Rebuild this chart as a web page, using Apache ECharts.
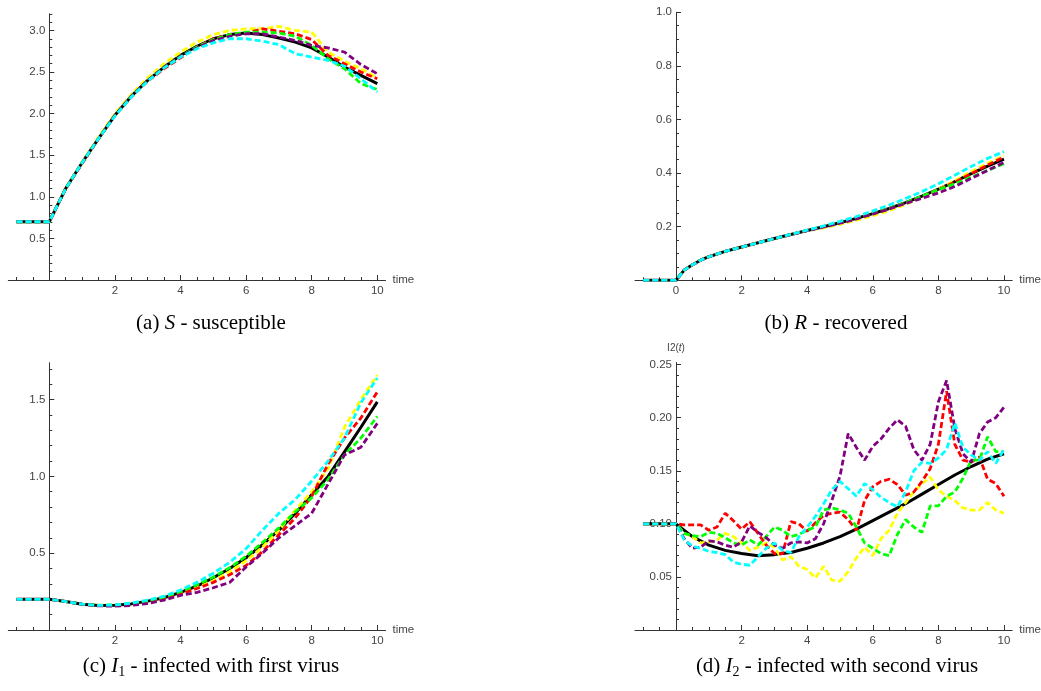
<!DOCTYPE html>
<html><head><meta charset="utf-8">
<script src="https://cdn.jsdelivr.net/npm/echarts@6/dist/echarts.min.js"></script>
<style>html,body{margin:0;padding:0;background:#fff}#c{width:1041px;height:691px}</style>
</head><body><div id="c"></div>
<script>
// ---------- time grids ----------
const T_HALF = [-1,0,0.5,1,1.5,2,2.5,3,3.5,4,4.5,5,5.5,6,6.5,7,7.5,8,8.5,9,9.5,10];
const T_B = [-1,0,0.25,0.5,0.75,1,1.5,2,2.5,3,3.5,4,4.5,5,5.5,6,6.5,7,7.5,8,8.5,9,9.5,10];
const T_QUARTER = [-1,0,0.25,0.5,0.75,1,1.25,1.5,1.75,2,2.25,2.5,2.75,3,3.25,3.5,3.75,4,4.25,4.5,4.75,5,5.25,5.5,5.75,6,6.25,6.5,6.75,7,7.25,7.5,7.75,8,8.25,8.5,8.75,9,9.25,9.5,9.75,10];

// ---------- (a) S - susceptible (T_HALF) ----------
const S_black  = [0.70,0.70,1.10,1.41,1.70,1.98,2.21,2.40,2.56,2.70,2.81,2.90,2.95,2.97,2.95,2.91,2.86,2.79,2.68,2.56,2.46,2.36];
const S_yellow = [0.70,0.70,1.11,1.42,1.72,2.00,2.23,2.43,2.60,2.74,2.86,2.95,3.00,3.02,3.02,3.05,3.00,2.98,2.74,2.63,2.54,2.43];
const S_red    = [0.70,0.70,1.10,1.40,1.70,1.98,2.20,2.39,2.54,2.67,2.80,2.90,2.95,2.97,3.02,2.99,2.96,2.89,2.70,2.60,2.50,2.42];
const S_green  = [0.70,0.70,1.10,1.41,1.70,1.98,2.21,2.40,2.56,2.69,2.80,2.89,2.95,2.98,2.98,2.97,2.93,2.82,2.66,2.54,2.36,2.29];
const S_purple = [0.70,0.70,1.10,1.41,1.70,1.98,2.21,2.40,2.56,2.69,2.79,2.88,2.93,2.96,2.96,2.92,2.88,2.82,2.79,2.74,2.59,2.48];
const S_cyan   = [0.70,0.70,1.10,1.41,1.70,1.97,2.20,2.39,2.55,2.68,2.78,2.85,2.90,2.90,2.87,2.83,2.72,2.68,2.64,2.57,2.42,2.26];

// ---------- (b) R - recovered (T_B) ----------
const R_black  = [0,0,0.038,0.058,0.075,0.088,0.108,0.124,0.140,0.156,0.171,0.186,0.200,0.215,0.231,0.249,0.268,0.290,0.314,0.340,0.368,0.398,0.426,0.452];
const R_yellow = [0,0,0.038,0.058,0.075,0.088,0.108,0.124,0.140,0.156,0.170,0.185,0.196,0.209,0.224,0.241,0.260,0.283,0.310,0.340,0.372,0.405,0.437,0.465];
const R_red    = [0,0,0.038,0.058,0.075,0.088,0.108,0.124,0.140,0.156,0.171,0.186,0.200,0.215,0.231,0.249,0.268,0.290,0.313,0.338,0.366,0.398,0.430,0.460];
const R_green  = [0,0,0.038,0.058,0.075,0.088,0.108,0.124,0.140,0.156,0.171,0.186,0.200,0.215,0.231,0.249,0.268,0.290,0.314,0.338,0.360,0.385,0.410,0.435];
const R_purple = [0,0,0.038,0.058,0.075,0.088,0.108,0.124,0.140,0.156,0.170,0.185,0.199,0.213,0.229,0.247,0.266,0.287,0.306,0.326,0.350,0.380,0.410,0.440];
const R_cyan   = [0,0,0.038,0.058,0.075,0.088,0.108,0.124,0.140,0.156,0.171,0.187,0.203,0.220,0.238,0.259,0.281,0.305,0.331,0.360,0.392,0.425,0.455,0.480];

// ---------- (c) I1 - infected with first virus (T_HALF) ----------
const I1_black  = [0.20,0.20,0.185,0.168,0.160,0.161,0.170,0.188,0.210,0.245,0.285,0.340,0.400,0.470,0.555,0.650,0.760,0.880,1.000,1.160,1.320,1.485];
const I1_yellow = [0.20,0.20,0.185,0.168,0.160,0.161,0.168,0.185,0.205,0.235,0.275,0.320,0.380,0.450,0.540,0.650,0.780,0.900,1.050,1.320,1.500,1.660];
const I1_red    = [0.20,0.20,0.185,0.168,0.160,0.160,0.167,0.183,0.203,0.235,0.270,0.310,0.360,0.420,0.510,0.620,0.730,0.870,1.080,1.250,1.380,1.550];
const I1_green  = [0.20,0.20,0.185,0.168,0.161,0.163,0.172,0.190,0.215,0.250,0.295,0.345,0.405,0.480,0.570,0.665,0.770,0.860,0.980,1.140,1.250,1.390];
const I1_purple = [0.20,0.20,0.185,0.168,0.157,0.155,0.160,0.172,0.195,0.225,0.245,0.275,0.310,0.410,0.500,0.600,0.680,0.760,0.950,1.140,1.190,1.345];
const I1_cyan   = [0.20,0.20,0.185,0.168,0.160,0.163,0.175,0.195,0.220,0.260,0.310,0.370,0.440,0.530,0.650,0.760,0.850,0.970,1.100,1.250,1.480,1.640];

// ---------- (d) I2 - infected with second virus (T_QUARTER; black on T_HALF) ----------
const I2_black  = [0.100,0.100,0.088,0.080,0.075,0.072,0.070,0.071,0.073,0.077,0.082,0.088,0.095,0.103,0.111,0.119,0.128,0.137,0.146,0.154,0.161,0.166];
const I2_yellow = [0.100,0.100,0.091,0.088,0.082,0.083,0.085,0.091,0.088,0.082,0.075,0.078,0.082,0.078,0.066,0.069,0.060,0.057,0.049,0.060,0.047,0.046,0.055,0.068,0.078,0.070,0.086,0.094,0.110,0.120,0.130,0.138,0.144,0.132,0.126,0.122,0.115,0.113,0.113,0.120,0.113,0.110];
const I2_red    = [0.100,0.100,0.099,0.099,0.099,0.094,0.097,0.110,0.103,0.095,0.102,0.091,0.080,0.072,0.072,0.102,0.100,0.093,0.101,0.108,0.110,0.111,0.104,0.094,0.122,0.135,0.140,0.142,0.137,0.127,0.130,0.140,0.152,0.175,0.225,0.175,0.160,0.158,0.163,0.142,0.138,0.126];
const I2_green  = [0.100,0.100,0.091,0.089,0.088,0.092,0.091,0.087,0.082,0.080,0.085,0.080,0.088,0.097,0.094,0.088,0.090,0.094,0.097,0.113,0.115,0.113,0.110,0.097,0.082,0.077,0.072,0.070,0.090,0.104,0.097,0.092,0.117,0.117,0.126,0.130,0.143,0.160,0.160,0.182,0.168,0.168];
const I2_purple = [0.100,0.100,0.086,0.077,0.078,0.084,0.083,0.080,0.078,0.083,0.098,0.092,0.087,0.080,0.077,0.082,0.083,0.082,0.086,0.100,0.122,0.145,0.185,0.172,0.160,0.173,0.180,0.190,0.198,0.192,0.170,0.160,0.175,0.215,0.235,0.190,0.166,0.158,0.185,0.196,0.200,0.210];
const I2_cyan   = [0.100,0.100,0.085,0.079,0.077,0.074,0.073,0.071,0.064,0.062,0.061,0.069,0.077,0.082,0.075,0.073,0.088,0.097,0.107,0.119,0.132,0.140,0.133,0.126,0.138,0.132,0.125,0.120,0.116,0.130,0.150,0.158,0.157,0.162,0.170,0.195,0.172,0.165,0.160,0.168,0.157,0.170];

// ---------- tick labels ----------
const X_LABELS   = [2,4,6,8,10];
const X_LABELS_B = [0,2,4,6,8,10];
const Y_LABELS_A = [0.5,1.0,1.5,2.0,2.5,3.0];
const Y_LABELS_B = [0.2,0.4,0.6,0.8,1.0];
const Y_LABELS_C = [0.5,1.0,1.5];
const Y_LABELS_D = [0.05,0.10,0.15,0.20,0.25];

const COLORS = {black:'#000000', yellow:'#FFFF00', red:'#FF0000', green:'#00FF00', purple:'#800080', cyan:'#00FFFF'};
const SANS = '"Liberation Sans", Arial, sans-serif';
const SERIF = '"Liberation Serif", "DejaVu Serif", serif';
const AXC = '#333';
const LBC = '#444';

function steps(a, b, s) { const r = []; for (let i = 0; ; i++) { const v = +(a + i * s).toFixed(4); if (v > b + 1e-9) break; r.push(v); } return r; }

const XMIN = -1.25, XMAX = 10.25;
const grids = [
  {left: 8.3, top: 13.8, width: 377.2, height: 266.2},
  {left: 635, top: 12.3, width: 377.2, height: 268},
  {left: 8.3, top: 362.7, width: 377.2, height: 267.3},
  {left: 635, top: 362.5, width: 377.2, height: 267.5}
];
const panels = [
  {ymax: 3.2,   xl: X_LABELS,   yl: Y_LABELS_A, ystep: 0.1,  dig: 1, yname: ''},
  {ymax: 1.0,   xl: X_LABELS_B, yl: Y_LABELS_B, ystep: 0.05, dig: 1, yname: ''},
  {ymax: 1.74,  xl: X_LABELS,   yl: Y_LABELS_C, ystep: 0.1,  dig: 1, yname: ''},
  {ymax: 0.252, xl: X_LABELS,   yl: Y_LABELS_D, ystep: 0.01, dig: 2, yname: 'I2({t|t})'}
];

const xAxes = [], yAxes = [];
panels.forEach((p, g) => {
  const lab = {fontFamily: SANS, fontSize: 11.5, color: LBC};
  // distance from grid left edge to x = 0 (where the y axis crosses)
  const zeroOffset = grids[g].width * (0 - XMIN) / (XMAX - XMIN);
  xAxes.push({
    gridIndex: g, type: 'value', min: XMIN, max: XMAX, position: 'bottom',
    axisLine: {show: true, onZero: false, lineStyle: {color: AXC, width: 1}},
    axisTick: {show: true, inside: true, length: 5, customValues: p.xl, lineStyle: {color: AXC}},
    axisLabel: Object.assign({customValues: p.xl, margin: 5, formatter: v => String(v)}, lab),
    splitLine: {show: false},
    name: 'time', nameLocation: 'end', nameGap: 7,
    nameTextStyle: {fontFamily: SANS, fontSize: 11.5, color: LBC, verticalAlign: 'middle'}
  });
  xAxes.push({
    gridIndex: g, type: 'value', min: XMIN, max: XMAX, position: 'bottom',
    axisLine: {show: false, onZero: false},
    axisTick: {show: true, inside: true, length: 3, customValues: steps(-1, 10, 0.5), lineStyle: {color: AXC}},
    axisLabel: {show: false}, splitLine: {show: false}
  });
  yAxes.push({
    gridIndex: g, type: 'value', min: 0, max: p.ymax, position: 'left',
    axisLine: {show: true, onZero: true, lineStyle: {color: AXC, width: 1}},
    axisTick: {show: true, inside: true, length: 5, customValues: p.yl, lineStyle: {color: AXC}},
    axisLabel: Object.assign({customValues: p.yl, margin: -(zeroOffset - 4), formatter: v => v.toFixed(p.dig)}, lab),
    splitLine: {show: false},
    name: p.yname, nameLocation: 'end', nameGap: 9,
    nameTextStyle: {fontFamily: SANS, fontSize: 10, color: LBC, align: 'center',
      rich: {t: {fontFamily: SANS, fontSize: 10, color: LBC, fontStyle: 'italic'}}}
  });
  yAxes.push({
    gridIndex: g, type: 'value', min: 0, max: p.ymax, position: 'left',
    axisLine: {show: false, onZero: true},
    axisTick: {show: true, inside: true, length: 3, customValues: steps(p.ystep, p.ymax, p.ystep), lineStyle: {color: AXC}},
    axisLabel: {show: false}, splitLine: {show: false}
  });
});

function line(g, ts, vs, color, dashed) {
  return {
    type: 'line', xAxisIndex: 2 * g, yAxisIndex: 2 * g, showSymbol: false, symbol: 'none',
    silent: true, animation: false,
    data: ts.map((t, i) => [t, vs[i]]),
    lineStyle: {color: color, width: dashed ? 2.8 : 3, type: dashed ? [6, 3] : 'solid', cap: 'butt'}
  };
}
function panelSeries(g, tb, black, tc, y, r, gr, p, c) {
  return [
    line(g, tb, black, COLORS.black, false),
    line(g, tc, y, COLORS.yellow, true),
    line(g, tc, r, COLORS.red, true),
    line(g, tc, gr, COLORS.green, true),
    line(g, tc, p, COLORS.purple, true),
    line(g, tc, c, COLORS.cyan, true)
  ];
}
const series = [].concat(
  panelSeries(0, T_HALF, S_black, T_HALF, S_yellow, S_red, S_green, S_purple, S_cyan),
  panelSeries(1, T_B, R_black, T_B, R_yellow, R_red, R_green, R_purple, R_cyan),
  panelSeries(2, T_HALF, I1_black, T_HALF, I1_yellow, I1_red, I1_green, I1_purple, I1_cyan),
  panelSeries(3, T_HALF, I2_black, T_QUARTER, I2_yellow, I2_red, I2_green, I2_purple, I2_cyan)
);

function caption(x, y, text) {
  return {
    type: 'text', x: x, y: y, silent: true,
    style: {
      text: text, fontFamily: SERIF, fontSize: 21, lineHeight: 26, fill: '#000',
      align: 'center', verticalAlign: 'middle',
      rich: {
        i: {fontFamily: SERIF, fontSize: 21, lineHeight: 26, fontStyle: 'italic', fill: '#000'},
        s: {fontFamily: SERIF, fontSize: 14, lineHeight: 14, verticalAlign: 'bottom', fill: '#000'}
      }
    }
  };
}

const chart = echarts.init(document.getElementById('c'), null, {renderer: 'canvas'});
chart.setOption({
  animation: false,
  backgroundColor: '#ffffff',
  grid: grids.map(g => Object.assign({containLabel: false, outerBoundsMode: 'none'}, g)),
  xAxis: xAxes,
  yAxis: yAxes,
  series: series,
  graphic: [
    caption(211, 323, '(a) {i|S} - susceptible'),
    caption(836, 323, '(b) {i|R} - recovered'),
    caption(211, 666, '(c) {i|I}{s|1} - infected with first virus'),
    caption(837, 666, '(d) {i|I}{s|2} - infected with second virus')
  ]
});
</script></body></html>
